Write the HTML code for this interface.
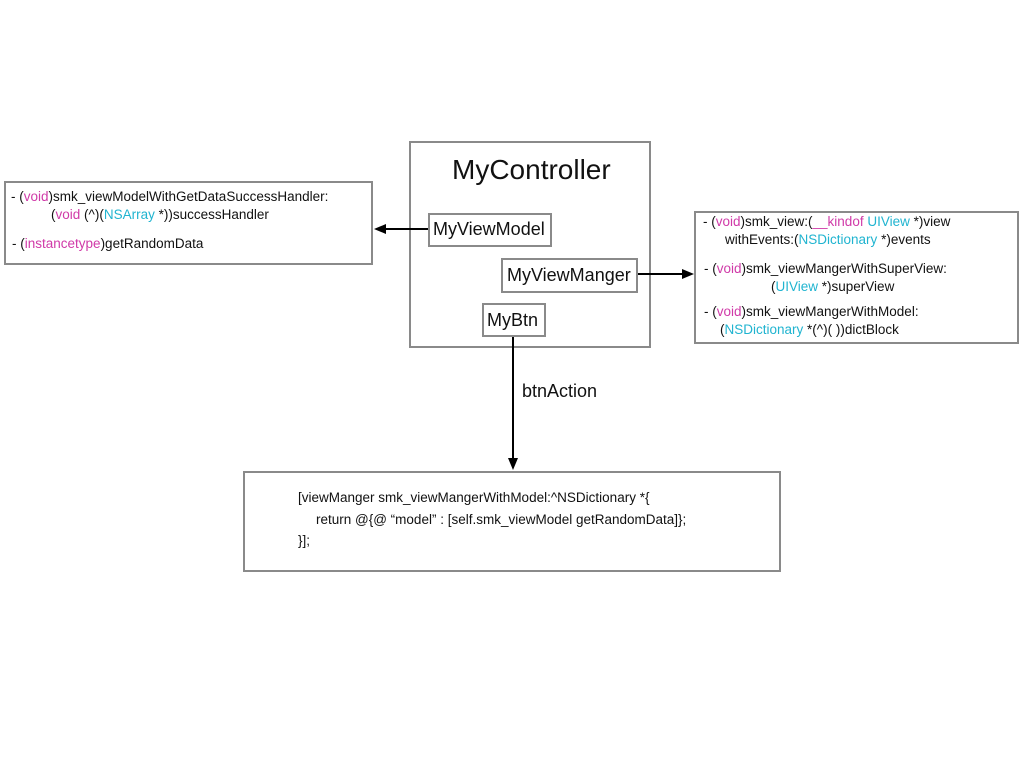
<!DOCTYPE html>
<html><head><style>
body{margin:0;width:1024px;height:768px;background:#fff;position:relative;font-family:"Liberation Sans",sans-serif;color:#111;overflow:hidden}
.b{position:absolute;border:2px solid #8a8a8a;box-sizing:border-box;background:#fff}
.t{position:absolute;white-space:nowrap}
.p{color:#d03aa8}.c{color:#20b4d0}
.s{font-size:13.5px}
.l{font-size:18px}
</style></head><body>
<div class="b" style="left:409px;top:141px;width:242px;height:207px"></div>
<div class="t" style="left:452px;top:154px;font-size:28px">MyController</div>
<div class="b" style="left:4px;top:181px;width:369px;height:84px"></div>
<div class="t s" style="left:11px;top:189px">- (<span class="p">void</span>)smk_viewModelWithGetDataSuccessHandler:</div>
<div class="t s" style="left:51px;top:207px">(<span class="p">void</span> (^)(<span class="c">NSArray</span> *))successHandler</div>
<div class="t s" style="left:12px;top:236px">- (<span class="p">instancetype</span>)getRandomData</div>
<div class="b" style="left:428px;top:213px;width:124px;height:34px"></div>
<div class="t l" style="left:433px;top:219px">MyViewModel</div>
<div class="b" style="left:501px;top:258px;width:137px;height:35px"></div>
<div class="t l" style="left:507px;top:265px">MyViewManger</div>
<div class="b" style="left:482px;top:303px;width:64px;height:34px"></div>
<div class="t l" style="left:487px;top:310px">MyBtn</div>
<div class="b" style="left:694px;top:211px;width:325px;height:133px"></div>
<div class="t s" style="left:703px;top:214px">- (<span class="p">void</span>)smk_view:(<span class="p">__kindof</span> <span class="c">UIView</span> *)view</div>
<div class="t s" style="left:725px;top:232px">withEvents:(<span class="c">NSDictionary</span> *)events</div>
<div class="t s" style="left:704px;top:261px">- (<span class="p">void</span>)smk_viewMangerWithSuperView:</div>
<div class="t s" style="left:771px;top:279px">(<span class="c">UIView</span> *)superView</div>
<div class="t s" style="left:704px;top:304px">- (<span class="p">void</span>)smk_viewMangerWithModel:</div>
<div class="t s" style="left:720px;top:322px">(<span class="c">NSDictionary</span> *(^)( ))dictBlock</div>
<div class="b" style="left:243px;top:471px;width:538px;height:101px"></div>
<div class="t s" style="left:298px;top:490px">[viewManger smk_viewMangerWithModel:^NSDictionary *{</div>
<div class="t s" style="left:316px;top:512px">return @{@ “model”  : [self.smk_viewModel getRandomData]};</div>
<div class="t s" style="left:298px;top:533px">}];</div>
<div class="t l" style="left:522px;top:381px">btnAction</div>
<svg style="position:absolute;left:0;top:0" width="1024" height="768">
<g stroke="#000" stroke-width="2" fill="#000">
<line x1="428" y1="229" x2="384" y2="229"/><polygon points="374,229 386,224 386,234" stroke="none"/>
<line x1="638" y1="274" x2="684" y2="274"/><polygon points="694,274 682,269 682,279" stroke="none"/>
<line x1="513" y1="337" x2="513" y2="460"/><polygon points="513,470 508,458 518,458" stroke="none"/>
</g></svg>
</body></html>
